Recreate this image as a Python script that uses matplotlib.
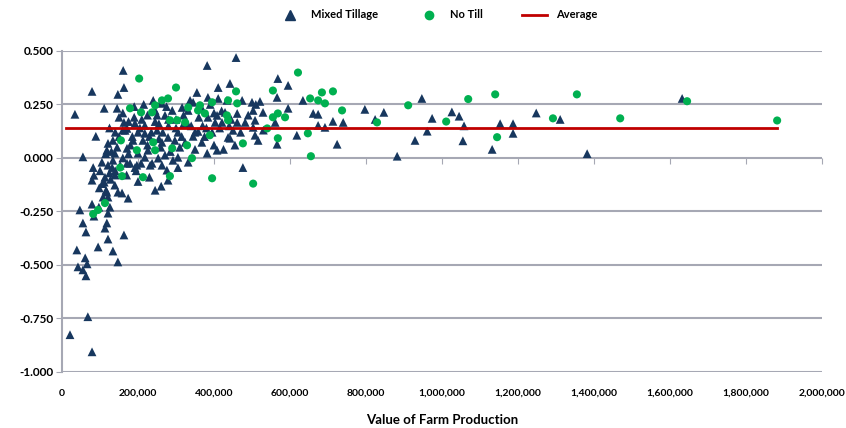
import matplotlib
matplotlib.use("Agg")
import matplotlib.pyplot as plt
from matplotlib.lines import Line2D
from matplotlib.ticker import FuncFormatter, NullFormatter

plt.rcParams["font.family"] = ["Lato", "DejaVu Sans"]
plt.rcParams["font.weight"] = "bold"

# Mixed Tillage: (value of farm production in $1000, ratio)
mixed_x = [
    21, 79, 68,
    47, 55, 63, 39, 61, 42, 55, 63, 66,
    95, 121, 134, 147, 163, 113, 118, 84, 79, 97, 121, 126, 108, 118,
    82, 84, 79, 111, 116, 121, 139, 147, 158, 174, 132, 153, 179, 192, 208, 237, 263, 276, 245, 261, 279, 305,
    100, 105, 113, 125, 140, 128, 98, 106,
    161, 79, 163, 147, 111, 145, 34, 89, 55, 163,
    240, 263, 192, 218, 166, 171, 121, 134, 118, 139, 171, 187, 213, 200, 226, 263, 279, 297, 218, 253, 271,
    121, 134, 171, 197, 232, 292, 245, 271, 290, 218, 250,
    458, 382, 411, 442, 355, 568, 595, 566, 595, 500, 521, 529, 503, 474, 434, 411, 384, 337, 316, 332, 368,
    384, 408, 429, 461, 403, 421, 461, 482, 508, 450, 503, 437, 442, 508, 516, 561, 566, 618, 358, 345, 368,
    382, 408, 324, 305, 305, 332, 476,
    634, 661, 674, 674, 692, 713, 740, 797, 847, 824, 724, 882, 929, 947,
    1026, 1045, 1058, 1055, 974, 961, 1132, 1153, 1187, 1187, 1248, 1311, 1632, 1382,
    150, 160, 175, 185, 200, 210, 225, 230, 255, 260, 280, 300, 310, 320, 340, 350, 360, 380, 395, 400,
    415, 425, 445, 455, 470, 490, 510, 530, 145, 160, 180, 205, 235, 265, 285, 315, 330, 345, 370, 390,
    420, 440, 160, 190, 215, 250, 275, 130, 140, 175, 195, 225, 255, 300, 140, 170, 200, 230, 115, 125,
    150, 190, 245, 260, 280, 320, 350, 375, 400,
]
mixed_y = [
    -0.826, -0.906, -0.742,
    -0.243, -0.304, -0.346, -0.430, -0.467, -0.509, -0.523, -0.551, -0.495,
    -0.416, -0.379, -0.435, -0.486, -0.360, -0.328, -0.304, -0.272, -0.216, -0.230, -0.258, -0.230, -0.183, -0.160,
    -0.045, -0.081, -0.104, -0.113, -0.151, -0.183, -0.127, -0.160, -0.164, -0.188, -0.045, -0.034, -0.025, -0.045,
    -0.025, -0.025, -0.034, -0.057, -0.151, -0.132, -0.104, -0.045,
    -0.060, -0.020, -0.090, -0.070, -0.080, -0.100, -0.140, -0.120,
    0.409, 0.311, 0.329, 0.297, 0.232, 0.232, 0.204, 0.101, 0.005, 0.166,
    0.269, 0.255, 0.162, 0.152, 0.129, 0.138, 0.068, 0.082, 0.036, 0.022, 0.045, 0.082, 0.082, 0.022, 0.036, 0.073,
    0.096, 0.082, 0.003, -0.001, 0.013,
    -0.034, -0.011, -0.025, -0.034, -0.034, -0.011, 0.222, 0.199, 0.222, 0.115, 0.129,
    0.469, 0.432, 0.329, 0.348, 0.306, 0.371, 0.339, 0.283, 0.232, 0.260, 0.264, 0.213, 0.222, 0.269, 0.269, 0.278,
    0.283, 0.269, 0.236, 0.222, 0.232,
    0.190, 0.199, 0.213, 0.208, 0.166, 0.166, 0.166, 0.166, 0.176, 0.129, 0.143, 0.096, 0.092, 0.106, 0.082, 0.166,
    0.064, 0.106, 0.124, 0.101, 0.073,
    0.022, 0.036, 0.073, 0.120, 0.003, -0.020, -0.045,
    0.269, 0.208, 0.204, 0.152, 0.143, 0.171, 0.166, 0.227, 0.213, 0.180, 0.064, 0.008, 0.082, 0.278,
    0.215, 0.195, 0.150, 0.080, 0.185, 0.125, 0.040, 0.160, 0.160, 0.115, 0.210, 0.180, 0.278, 0.020,
    0.19, 0.21, 0.17, 0.10, 0.12, 0.18, 0.20, 0.10, 0.16, 0.05, 0.15, 0.18, 0.05, 0.16, 0.15, 0.04, 0.19, 0.14, 0.12, 0.06,
    0.14, 0.04, 0.18, 0.06, 0.12, 0.20, 0.25, 0.13, 0.05, 0.00, 0.06, 0.14, 0.12, 0.12, 0.03, 0.10, 0.16, 0.26, 0.15, 0.25,
    0.22, 0.15, 0.13, 0.24, 0.25, 0.20, 0.24, 0.03, 0.12, 0.02, -0.06, 0.06, 0.09, 0.14, -0.06, -0.08, -0.11, -0.09, 0.02, 0.14,
    0.10, 0.19, 0.17, 0.26, 0.18, 0.20, 0.12, 0.10, 0.21,
]

# No Till
notill_x = [
    153, 158, 213, 284, 113, 95, 82, 395, 503,
    203, 300, 179, 208, 237, 245, 263, 279, 303, 284, 155, 240, 245, 290, 197,
    458, 555, 621, 395, 437, 461, 363, 332, 358, 376, 434, 437, 555, 568, 587, 324, 540, 389, 568, 476, 329, 342,
    653, 684, 713, 674, 692, 737, 829, 911, 647, 655,
    1140, 1069, 1011, 1145, 1292, 1355, 1469, 1645, 1882,
]
notill_y = [
    -0.045, -0.085, -0.090, -0.085, -0.211, -0.243, -0.262, -0.095, -0.120,
    0.371, 0.329, 0.232, 0.213, 0.213, 0.246, 0.269, 0.278, 0.176, 0.176, 0.082, 0.073, 0.036, 0.045, 0.036,
    0.311, 0.315, 0.399, 0.260, 0.269, 0.255, 0.246, 0.236, 0.222, 0.208, 0.199, 0.176, 0.190, 0.208, 0.190, 0.166,
    0.138, 0.106, 0.092, 0.068, 0.059, -0.001,
    0.278, 0.306, 0.311, 0.269, 0.255, 0.222, 0.166, 0.246, 0.115, 0.008,
    0.297, 0.275, 0.170, 0.097, 0.185, 0.297, 0.185, 0.265, 0.175,
]

average_x = [10, 1882]
average_value = 0.14

navy = "#17375E"
green = "#00B050"
red = "#C00000"
grid_gray = "#A6A8B4"

fig = plt.figure(figsize=(8.46, 4.28), dpi=100)
ax = fig.add_axes([0.0733, 0.131, 0.8983, 0.750])

ax.scatter([v * 1000 for v in mixed_x], mixed_y, marker="^", s=40, color=navy,
           edgecolors="none", zorder=3)
ax.scatter([v * 1000 for v in notill_x], notill_y, marker="o", s=34, color=green,
           edgecolors="none", zorder=4)
ax.plot([v * 1000 for v in average_x], [average_value] * 2, color=red, lw=2, zorder=5)

ax.set_xlim(0, 2000000)
ax.set_ylim(-1.0, 0.5)
ax.set_xticks(range(0, 2000001, 200000))
ax.set_yticks([-1.0, -0.75, -0.5, -0.25, 0.0, 0.25, 0.5])
ax.xaxis.set_major_formatter(FuncFormatter(lambda v, p: f"{int(v):,}"))
ax.yaxis.set_major_formatter(FuncFormatter(lambda v, p: f"{v:.3f}"))
ax.grid(axis="y", color=grid_gray, lw=1.5)
ax.set_axisbelow(True)
for s in ["top", "right", "bottom"]:
    ax.spines[s].set_visible(False)
ax.spines["left"].set_color(grid_gray)
ax.spines["left"].set_linewidth(1.5)
ax.tick_params(axis="x", length=0, pad=12, labelsize=7.5)
ax.tick_params(axis="y", length=4, color=grid_gray, labelsize=8.5, pad=2)

# horizontal axis drawn at y = 0 with its tick marks, no labels
sec = ax.secondary_xaxis(2 / 3)
sec.set_xticks(range(0, 2000001, 200000))
sec.xaxis.set_ticks_position("bottom")
sec.xaxis.set_major_formatter(NullFormatter())
sec.tick_params(axis="x", direction="out", length=4, color=grid_gray)
sec.spines["bottom"].set_color(grid_gray)
sec.spines["bottom"].set_linewidth(1.5)
for s in ["top", "left", "right"]:
    sec.spines[s].set_visible(False)

ax.set_xlabel("Value of Farm Production", fontsize=9.5, fontweight="bold", labelpad=12)

handles = [
    Line2D([], [], marker="^", color=navy, ls="none", markersize=7),
    Line2D([], [], marker="o", color=green, ls="none", markersize=6),
    Line2D([], [], color=red, lw=2),
]
fig.legend(handles, ["Mixed Tillage", "No Till", "Average"], loc="center",
           bbox_to_anchor=(0.517, 0.965), ncol=3, frameon=False, fontsize=8,
           columnspacing=3.5, handlelength=2.2, handletextpad=0.8)

plt.savefig("out.png", dpi=100)
